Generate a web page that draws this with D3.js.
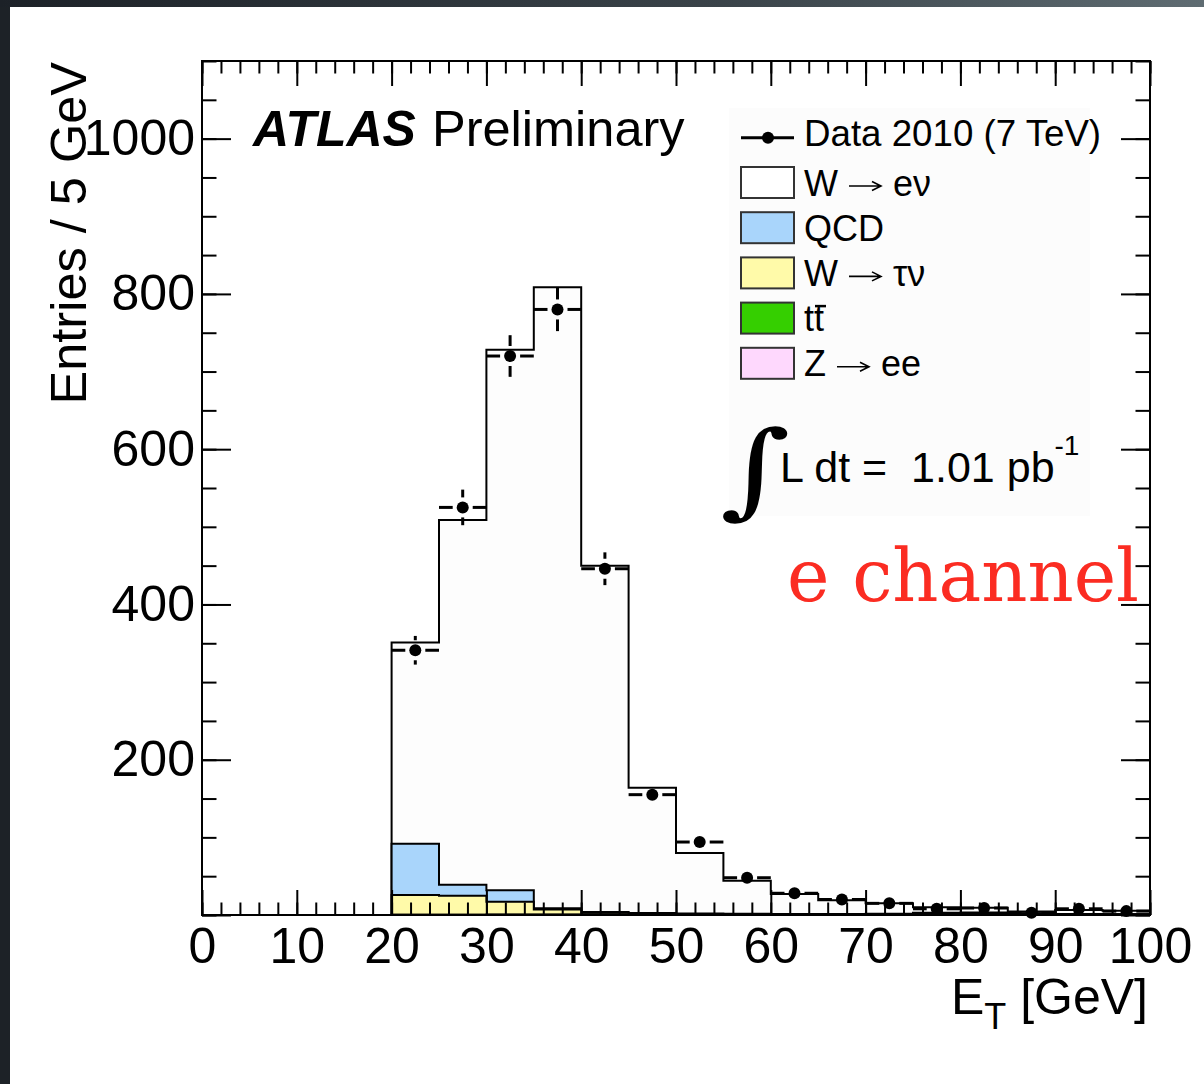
<!DOCTYPE html>
<html lang="en">

<head>
  <meta charset="UTF-8">
  <title>W to e nu, electron ET</title>
  <script src="https://cdnjs.cloudflare.com/ajax/libs/d3/7.8.5/d3.min.js"></script>
  <style>
    body {
      margin: 0;
      background: #22272c;
    }

    .tick line {
      stroke: #000;
      stroke-width: 2px;
    }

    .tick text {
      font-size: 50px;
    }
  </style>
</head>

<body>
  <div id="chart"></div>
  <script>
    // bin edges in GeV (5 GeV bins)
    const binEdges = [20, 25, 30, 35, 40, 45, 50, 55, 60, 65, 70, 75, 80, 85, 90, 95, 100];

    // stacked MC, entries per bin
    const zee = [0.3, 0.3, 0.4, 0.4, 0.5, 0.5, 0.4, 0.4, 0.5, 0.6, 0.8, 1.2, 1.5, 1.5, 1.0, 0.6];
    const ttbar = [0.1, 0.1, 0.1, 0.15, 0.2, 0.2, 0.2, 0.2, 0.2, 0.2, 0.2, 0.2, 0.15, 0.15, 0.1, 0.1];
    const wtaunu = [25.5, 24.5, 16.5, 6.4, 2.3, 0.8, 0.4, 0.3, 0.2, 0.1, 0.1, 0.05, 0.05, 0.05, 0.03, 0.02];
    const qcd = [66, 14, 15, 1.7, 1.0, 1.0, 0.8, 0.6, 0.5, 0.4, 0.6, 1.5, 1.5, 0.4, 0.3, 0.2];
    const wenu = [259, 470, 696, 800, 446, 161.5, 78, 42.5, 25.6, 17.7, 13.3, 7, 6.3, 2.4, 5, 4.6];

    // data 2010
    const dataCounts = [341, 525, 720, 780, 446, 155, 94, 48, 28, 20, 15, 8, 9, 3, 8, 5];

    const xMajor = [0, 10, 20, 30, 40, 50, 60, 70, 80, 90, 100];
    const yMajor = [0, 200, 400, 600, 800, 1000];

    // legend rows: text before arrow, text after arrow
    const legendItems = [
      { pre: "W", post: "e\u03bd", color: "#ffffff" },
      { pre: "QCD", post: null, color: "#a9d5fb" },
      { pre: "W", post: "\u03c4\u03bd", color: "#fffaa9" },
      { pre: "tt", post: null, color: "#35cf00" },
      { pre: "Z", post: "ee", color: "#fed8fd" }
    ];

    const width = 1204;
    const height = 1084;

    const svg = d3.select("#chart")
      .append("svg")
      .attr("width", width)
      .attr("height", height)
      .attr("font-family", "'Liberation Sans', Arial, Helvetica, sans-serif");

    // dark photo frame + white page
    const grad = svg.append("defs").append("linearGradient")
      .attr("id", "topband");
    grad.append("stop").attr("offset", "0%").attr("stop-color", "#1c2127");
    grad.append("stop").attr("offset", "60%").attr("stop-color", "#3a4349");
    grad.append("stop").attr("offset", "100%").attr("stop-color", "#5f6c72");
    svg.append("rect").attr("width", width).attr("height", height).attr("fill", "#1d2227");
    svg.append("rect").attr("width", width).attr("height", 7).attr("fill", "url(#topband)");
    svg.append("rect").attr("x", 10).attr("y", 7).attr("width", width - 10).attr("height", height - 7).attr("fill", "#fff");

    const x = d3.scaleLinear().domain([0, 100]).range([202, 1150]);
    const y = d3.scaleLinear().domain([0, 1100]).range([915, 61]);

    // faint legend pad
    svg.append("rect")
      .attr("x", 729).attr("y", 108).attr("width", 361).attr("height", 408)
      .attr("fill", "#fcfcfc");

    // cumulative stack, bottom to top
    const layers = [zee, ttbar, wtaunu, qcd, wenu];
    const colors = ["#fed8fd", "#35cf00", "#fffaa9", "#a9d5fb", "#fdfdfd"];
    let run = zee.map(() => 0);
    const cumulative = layers.map(arr => {
      run = run.map((v, i) => v + arr[i]);
      return run.slice();
    });

    const stepLine = d3.line().x(d => x(d[0])).y(d => y(d[1]));
    function stepPoints(vals) {
      const pts = [[binEdges[0], 0]];
      vals.forEach((v, i) => {
        pts.push([binEdges[i], v]);
        pts.push([binEdges[i + 1], v]);
      });
      pts.push([binEdges[binEdges.length - 1], 0]);
      return pts;
    }

    // draw top of stack first so lower layers paint over it
    for (let k = cumulative.length - 1; k >= 0; k--) {
      svg.append("path")
        .attr("d", stepLine(stepPoints(cumulative[k])))
        .attr("fill", colors[k])
        .attr("stroke", "#000")
        .attr("stroke-width", 2);
    }

    // data points with error bars (gap round marker)
    const gap = 10;
    const errG = svg.append("g").attr("stroke", "#000").attr("stroke-width", 3);
    dataCounts.forEach((n, i) => {
      const cx = x((binEdges[i] + binEdges[i + 1]) / 2);
      const cy = y(n);
      const xl = x(binEdges[i]);
      const xr = x(binEdges[i + 1]);
      const yt = y(n + Math.sqrt(n));
      const yb = y(n - Math.sqrt(n));
      errG.append("line").attr("x1", xl).attr("x2", cx - gap).attr("y1", cy).attr("y2", cy);
      errG.append("line").attr("x1", cx + gap).attr("x2", xr).attr("y1", cy).attr("y2", cy);
      if (cy - yt > gap) {
        errG.append("line").attr("x1", cx).attr("x2", cx).attr("y1", yt).attr("y2", cy - gap);
        errG.append("line").attr("x1", cx).attr("x2", cx).attr("y1", cy + gap).attr("y2", yb);
      }
    });
    svg.append("g")
      .selectAll("circle")
      .data(dataCounts)
      .join("circle")
      .attr("cx", (d, i) => x((binEdges[i] + binEdges[i + 1]) / 2))
      .attr("cy", d => y(d))
      .attr("r", 6)
      .attr("fill", "#000");

    // axes, ticks inward on all four sides
    const minorX = d3.range(0, 101, 2);
    const minorY = d3.range(0, 1101, 50);

    svg.append("g").attr("transform", "translate(0,915)")
      .call(d3.axisBottom(x).tickValues(minorX).tickSize(-12.5).tickFormat(""));
    svg.append("g").attr("transform", "translate(0,915)")
      .call(d3.axisBottom(x).tickValues(xMajor).tickSize(-25).tickPadding(12).tickFormat(d3.format("d")));
    svg.append("g").attr("transform", "translate(0,61)")
      .call(d3.axisTop(x).tickValues(minorX).tickSize(-12.5).tickFormat(""));
    svg.append("g").attr("transform", "translate(0,61)")
      .call(d3.axisTop(x).tickValues(xMajor).tickSize(-25).tickFormat(""));

    svg.append("g").attr("transform", "translate(202,0)")
      .call(d3.axisLeft(y).tickValues(minorY).tickSize(-14.5).tickFormat(""));
    svg.append("g").attr("transform", "translate(202,0)")
      .call(d3.axisLeft(y).tickValues(yMajor).tickSize(-29).tickPadding(7)
        .tickFormat(d => d === 0 ? "" : d));
    svg.append("g").attr("transform", "translate(1150,0)")
      .call(d3.axisRight(y).tickValues(minorY).tickSize(-14.5).tickFormat(""));
    svg.append("g").attr("transform", "translate(1150,0)")
      .call(d3.axisRight(y).tickValues(yMajor).tickSize(-29).tickFormat(""));

    svg.selectAll(".domain").remove();
    svg.selectAll(".tick").select(function () { return this.parentNode; })
      .attr("font-family", null).attr("font-size", null);
    svg.selectAll(".tick text").attr("fill", "#000");

    // frame
    svg.append("rect")
      .attr("x", 202).attr("y", 61).attr("width", 948).attr("height", 854)
      .attr("fill", "none").attr("stroke", "#000").attr("stroke-width", 2);

    // axis titles
    svg.append("text")
      .attr("transform", "translate(86,62) rotate(-90)")
      .attr("text-anchor", "end")
      .attr("font-size", 50.5)
      .text("Entries / 5 GeV");

    const xt = svg.append("text")
      .attr("x", 1148).attr("y", 1014)
      .attr("text-anchor", "end")
      .attr("font-size", 50);
    xt.append("tspan").text("E");
    xt.append("tspan").attr("font-size", 36).attr("dy", 15).text("T");
    xt.append("tspan").attr("dy", -15).text(" [GeV]");

    // ATLAS label
    svg.append("text")
      .attr("x", 253).attr("y", 146)
      .attr("font-size", 50).attr("font-weight", "bold").attr("font-style", "italic")
      .text("ATLAS");
    svg.append("text")
      .attr("x", 432).attr("y", 146)
      .attr("font-size", 50.5)
      .text("Preliminary");

    // legend
    const lg = svg.append("g");
    lg.append("line").attr("x1", 741).attr("x2", 794).attr("y1", 137.7).attr("y2", 137.7)
      .attr("stroke", "#000").attr("stroke-width", 3);
    lg.append("circle").attr("cx", 768).attr("cy", 137.7).attr("r", 6).attr("fill", "#000");
    lg.append("text").attr("x", 804).attr("y", 146).attr("font-size", 36.7).text("Data 2010 (7 TeV)");

    legendItems.forEach((item, i) => {
      const cy = 182.5 + i * 45.2;
      lg.append("rect")
        .attr("x", 741).attr("y", cy - 15.5).attr("width", 53).attr("height", 31)
        .attr("fill", item.color).attr("stroke", "#333").attr("stroke-width", 2);
      const t = lg.append("text")
        .attr("x", 804).attr("y", cy + 13)
        .attr("font-size", 36)
        .text(item.pre);
      if (item.post) {
        const textEnd = 804 + t.node().getComputedTextLength();
        const a0 = textEnd + 11;
        const a1 = a0 + 32;
        const ay = cy + 3.5;
        lg.append("path")
          .attr("d", `M${a0},${ay}H${a1}M${a1 - 9},${ay - 4.5}L${a1},${ay}L${a1 - 9},${ay + 4.5}`)
          .attr("fill", "none").attr("stroke", "#000").attr("stroke-width", 1.6);
        lg.append("text")
          .attr("x", a1 + 12).attr("y", cy + 13)
          .attr("font-size", 36)
          .text(item.post);
      }
      if (item.pre === "tt") {
        lg.append("line")
          .attr("x1", 815).attr("x2", 826).attr("y1", cy - 12).attr("y2", cy - 12)
          .attr("stroke", "#000").attr("stroke-width", 2.5);
      }
    });

    // luminosity
    svg.append("text")
      .attr("transform", "translate(720,505) scale(1.3,1)")
      .attr("font-family", "'DejaVu Serif'")
      .attr("font-size", 104)
      .text("\u222b");
    const lumi = svg.append("text")
      .attr("x", 780).attr("y", 482)
      .attr("font-size", 43)
      .style("white-space", "pre");
    lumi.append("tspan").text("L dt =  1.01 pb");
    lumi.append("tspan").attr("font-size", 28).attr("dy", -27).text("-1");

    // channel tag
    svg.append("text")
      .attr("x", 787).attr("y", 601)
      .attr("font-family", "'DejaVu Serif'")
      .attr("font-size", 72)
      .attr("textLength", 352)
      .attr("lengthAdjust", "spacingAndGlyphs")
      .attr("fill", "#fb2c22")
      .text("e channel");
  </script>
</body>

</html>
